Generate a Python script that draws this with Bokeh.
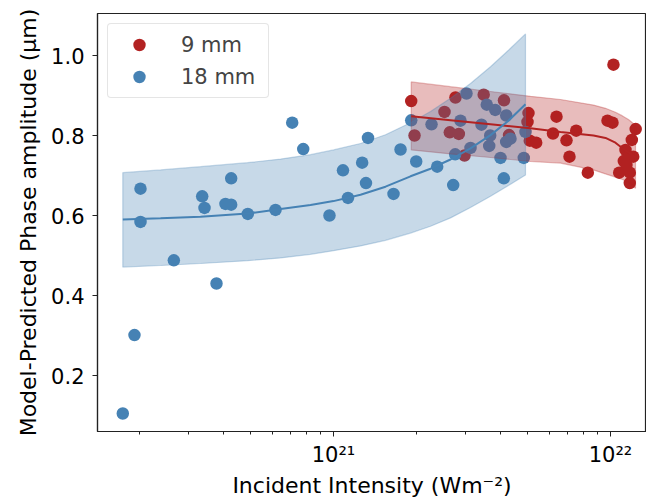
import numpy as np
from bokeh.plotting import figure
from bokeh.models import FixedTicker, Legend, LegendItem
from bokeh.embed import file_html
from bokeh.resources import INLINE

# ---- data: 9 mm (red) ----
red_x = [1.908e21, 1.961e21, 2.516e21, 2.756e21, 2.63e21, 2.834e21, 3.485e21, 4.126e21,
         2.972e21, 4.302e21, 5.058e21, 5.016e21, 5.113e21, 5.392e21, 6.384e21, 6.2e21,
         6.937e21, 7.52e21, 7.112e21, 8.283e21, 1.025e22, 9.754e21, 1.017e22, 1.233e22,
         1.194e22, 1.133e22, 1.164e22, 1.208e22, 1.117e22, 1.075e22, 1.174e22, 1.174e22,
         1.142e22]
red_y = [0.886, 0.800, 0.859, 0.895, 0.808, 0.804, 0.902, 0.888,
         0.750, 0.801, 0.856, 0.834, 0.787, 0.782, 0.847, 0.805,
         0.788, 0.812, 0.747, 0.707, 0.977, 0.837, 0.832, 0.816,
         0.789, 0.764, 0.747, 0.747, 0.736, 0.707, 0.707, 0.681,
         0.726]

# ---- data: 18 mm (blue) ----
blue_x = [1.735e20, 1.912e20, 2.01e20, 2.01e20, 2.652e20, 3.357e20, 3.422e20, 3.781e20,
          4.074e20, 4.272e20, 4.272e20, 4.905e20, 6.175e20, 7.095e20, 7.775e20, 9.67e20,
          1.082e21, 1.128e21, 1.269e21, 1.31e21, 1.332e21, 1.647e21, 1.746e21, 1.989e21,
          1.908e21, 2.259e21, 2.368e21, 2.705e21, 2.75e21, 2.874e21, 3.021e21, 3.124e21,
          3.422e21, 3.576e21, 3.649e21, 3.679e21, 3.836e21, 4.008e21, 4.12e21, 4.203e21,
          4.203e21, 4.355e21, 4.864e21, 4.933e21]
blue_y = [0.105, 0.301, 0.667, 0.584, 0.488, 0.648, 0.619, 0.430,
          0.629, 0.627, 0.693, 0.604, 0.614, 0.832, 0.766, 0.600,
          0.713, 0.644, 0.732, 0.681, 0.794, 0.654, 0.765, 0.735,
          0.838, 0.828, 0.722, 0.676, 0.753, 0.837, 0.905, 0.769,
          0.827, 0.877, 0.774, 0.800, 0.864, 0.744, 0.693, 0.850,
          0.784, 0.792, 0.744, 0.809]

# ---- model fits and confidence bands ----
blue_fit_x = [1.735e20, 2.375e20, 3.311e20, 4.893e20, 6.44e20, 8.26e20, 1.0e21, 1.252e21,
              1.541e21, 1.897e21, 2.240e21, 2.645e21, 3.123e21, 3.688e21, 4.283e21, 4.933e21]
blue_fit_y = [0.590, 0.593, 0.597, 0.605, 0.616, 0.626, 0.636, 0.652,
              0.672, 0.698, 0.717, 0.740, 0.768, 0.801, 0.837, 0.878]
blue_hi = [0.707, 0.714, 0.722, 0.732, 0.741, 0.752, 0.764, 0.780,
           0.802, 0.832, 0.860, 0.893, 0.930, 0.972, 1.013, 1.054]
blue_lo = [0.471, 0.475, 0.480, 0.487, 0.494, 0.503, 0.512, 0.524,
           0.538, 0.556, 0.573, 0.594, 0.620, 0.648, 0.675, 0.701]

red_fit_x = [1.908e21, 2.645e21, 3.688e21, 5.142e21, 6.6e21, 8.682e21, 9.595e21,
             1.042e22, 1.105e22, 1.161e22, 1.2e22, 1.231e22]
red_fit_y = [0.848, 0.838, 0.828, 0.818, 0.809, 0.800, 0.794, 0.782, 0.768, 0.758, 0.751, 0.745]
red_hi = [0.934, 0.922, 0.910, 0.898, 0.890, 0.876, 0.868, 0.858, 0.849, 0.840, 0.832, 0.822]
red_lo = [0.764, 0.754, 0.745, 0.735, 0.731, 0.714, 0.704, 0.696, 0.690, 0.683, 0.676, 0.668]

labels = ["9 mm", "18 mm"]
major_ticks = [1e21, 1e22]
minor_ticks = [2e20, 3e20, 4e20, 5e20, 6e20, 7e20, 8e20, 9e20,
               2e21, 3e21, 4e21, 5e21, 6e21, 7e21, 8e21, 9e21]
y_ticks = [0.2, 0.4, 0.6, 0.8, 1.0]

RED = "#b22222"
BLUE = "#4682b4"
FONT = "DejaVu Sans"

p = figure(width=646, height=500, x_axis_type="log",
           x_range=(1.406e20, 1.349e22), y_range=(0.06, 1.105),
           output_backend="svg", toolbar_location=None,
           min_border_left=97, min_border_right=0, min_border_top=13, min_border_bottom=67)

r_red = p.scatter(red_x, red_y, size=12.5, color=RED, line_color=None)
r_blue = p.scatter(blue_x, blue_y, size=12.5, color=BLUE, line_color=None)

# bands (polygons)
p.patch(list(red_fit_x) + list(red_fit_x)[::-1], list(red_hi) + list(red_lo)[::-1],
        fill_color=RED, fill_alpha=0.3, line_color=RED, line_alpha=0.3, line_width=1.2)
p.patch(list(blue_fit_x) + list(blue_fit_x)[::-1], list(blue_hi) + list(blue_lo)[::-1],
        fill_color=BLUE, fill_alpha=0.3, line_color=BLUE, line_alpha=0.3, line_width=1.2)

p.line(red_fit_x, red_fit_y, color=RED, line_width=2)
p.line(blue_fit_x, blue_fit_y, color=BLUE, line_width=2)

# axes
p.xgrid.visible = False
p.ygrid.visible = False
p.outline_line_color = "#222222"
p.outline_line_width = 1.2

p.xaxis.ticker = FixedTicker(ticks=major_ticks, minor_ticks=minor_ticks)
p.xaxis.major_label_overrides = {1e21: "10\u00b2\u00b9", 1e22: "10\u00b2\u00b2"}
p.yaxis.ticker = FixedTicker(ticks=y_ticks)
p.yaxis.major_label_overrides = {0.2: "0.2", 0.4: "0.4", 0.6: "0.6", 0.8: "0.8", 1.0: "1.0"}

for ax in (p.xaxis[0], p.yaxis[0]):
    ax.axis_line_color = "#222222"
    ax.axis_line_width = 1.2
    ax.major_tick_out = 5
    ax.major_tick_in = 0
    ax.minor_tick_out = 3
    ax.minor_tick_in = 0
    ax.major_tick_line_color = "#222222"
    ax.minor_tick_line_color = "#222222"
    ax.major_label_text_font = FONT
    ax.major_label_text_font_size = "21px"
    ax.major_label_text_color = "#000000"
    ax.axis_label_text_font = FONT
    ax.axis_label_text_font_size = "22px"
    ax.axis_label_text_font_style = "normal"
    ax.axis_label_text_color = "#000000"

p.yaxis.major_label_standoff = 8
p.yaxis.axis_label_standoff = 7
p.xaxis.major_label_standoff = 6
p.xaxis.axis_label_standoff = 3
p.xaxis.axis_label = "Incident Intensity (Wm\u207b\u00b2)"
p.yaxis.axis_label = "Model-Predicted Phase amplitude (\u03bcm)"

legend = Legend(items=[LegendItem(label=labels[0], renderers=[r_red]),
                       LegendItem(label=labels[1], renderers=[r_blue])],
                location="top_left")
legend.margin = 10
legend.padding = 5
legend.spacing = 1
legend.glyph_width = 52
legend.glyph_height = 31
legend.label_standoff = 16
legend.label_width = 82
legend.label_text_font = FONT
legend.label_text_font_size = "21px"
legend.border_line_color = "#cccccc"
legend.border_line_width = 1
legend.border_radius = 4
legend.background_fill_alpha = 0.8
p.add_layout(legend)

open("out.html", "w").write(file_html(p, INLINE))
